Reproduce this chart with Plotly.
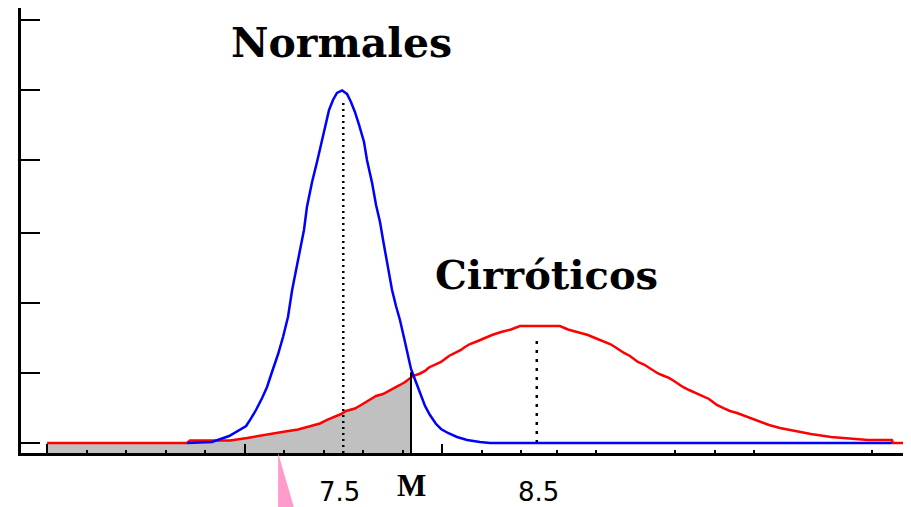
import plotly.graph_objects as go

# ---- data ----
normales_x = [6.709, 6.835, 6.922, 6.967, 7.008, 7.028, 7.058, 7.089, 7.114, 7.139,
              7.170, 7.195, 7.220, 7.241, 7.261, 7.281, 7.301, 7.316, 7.342, 7.367,
              7.387, 7.408, 7.428, 7.448, 7.468, 7.494, 7.519, 7.539, 7.559, 7.580,
              7.605, 7.620, 7.646, 7.666, 7.686, 7.706, 7.727, 7.747, 7.767, 7.787,
              7.808, 7.828, 7.843, 7.868, 7.889, 7.914, 7.939, 7.970, 7.995, 8.030,
              8.076, 8.127, 8.192, 8.243, 10.278]
normales_y = [0.0, 0.014, 0.10, 0.171, 0.243, 0.329, 0.471, 0.643, 0.80, 1.014,
              1.271, 1.514, 1.80, 2.186, 2.471, 2.757, 3.043, 3.371, 3.729, 4.014,
              4.257, 4.529, 4.757, 4.90, 5.0, 5.036, 4.986, 4.871, 4.729, 4.543,
              4.30, 4.043, 3.714, 3.40, 3.157, 2.829, 2.471, 2.186, 1.957, 1.757,
              1.50, 1.229, 1.057, 0.871, 0.70, 0.529, 0.40, 0.271, 0.20, 0.143,
              0.086, 0.043, 0.014, 0.0, 0.0]

cirroticos_x = [6.000, 6.709, 6.724, 6.927, 7.013, 7.114, 7.190, 7.271, 7.332, 7.382,
                7.418, 7.453, 7.489, 7.514, 7.559, 7.590, 7.615, 7.635, 7.666, 7.701,
                7.732, 7.762, 7.787, 7.813, 7.828, 7.853, 7.889, 7.914, 7.934, 7.965,
                7.995, 8.015, 8.035, 8.066, 8.096, 8.116, 8.142, 8.182, 8.218, 8.253,
                8.299, 8.349, 8.395, 8.496, 8.597, 8.638, 8.689, 8.739, 8.775, 8.810,
                8.851, 8.876, 8.896, 8.922, 8.952, 8.972, 8.992, 9.023, 9.048, 9.073,
                9.094, 9.119, 9.149, 9.175, 9.195, 9.220, 9.251, 9.286, 9.322, 9.352,
                9.372, 9.392, 9.423, 9.458, 9.494, 9.534, 9.575, 9.610, 9.656, 9.711,
                9.792, 9.868, 9.970, 10.157, 10.278, 10.284, 10.375]
cirroticos_y = [0.0, 0.0, 0.036, 0.036, 0.071, 0.114, 0.157, 0.193, 0.236, 0.279,
                0.329, 0.371, 0.414, 0.457, 0.493, 0.543, 0.586, 0.621, 0.671, 0.700,
                0.743, 0.786, 0.829, 0.871, 0.907, 0.957, 0.993, 1.029, 1.079, 1.121,
                1.157, 1.200, 1.243, 1.286, 1.329, 1.371, 1.414, 1.457, 1.500, 1.543,
                1.586, 1.621, 1.671, 1.671, 1.671, 1.621, 1.586, 1.543, 1.500, 1.457,
                1.414, 1.371, 1.329, 1.286, 1.243, 1.200, 1.157, 1.121, 1.079, 1.029,
                0.993, 0.964, 0.929, 0.886, 0.843, 0.800, 0.757, 0.714, 0.671, 0.629,
                0.586, 0.543, 0.500, 0.457, 0.429, 0.386, 0.343, 0.300, 0.257, 0.214,
                0.171, 0.129, 0.086, 0.043, 0.043, 0.0, 0.0]

mean_normales = 7.5
mean_cirroticos_line = 8.48    # where the dotted line at "8.5" is drawn
peak_line_normales = 4.886     # top of dotted line at 7.5
peak_line_cirroticos = 1.54    # top of dotted line at 8.5
cutoff_M = 7.843
cirroticos_at_M = 0.94
M_line_top = 1.01
pointer_x = 7.17

x_start = 6.0
x_range = [5.868, 10.375]
y_range = [-0.143, 6.214]

y_tickvals = [0, 1, 2, 3, 4.04, 5.04, 6.04]
x_major_ticks = [6, 7, 8]
x_minor_ticks = [6.2, 6.4, 6.6, 6.8, 7.2, 7.4, 7.6, 7.8, 8.2, 8.4, 8.58, 8.78,
                 9.18, 9.38, 9.58, 10.18]

# ---- figure ----
fig = go.Figure()

# shaded area under Cirróticos up to M
fx = [x for x in cirroticos_x if x <= cutoff_M]
fy = cirroticos_y[:len(fx)]
fill_x = fx + [cutoff_M, cutoff_M, x_start]
fill_y = fy + [cirroticos_at_M, y_range[0], y_range[0]]
fig.add_trace(go.Scatter(x=fill_x, y=fill_y, fill="toself", fillcolor="#C0C0C0",
                         mode="none", hoverinfo="skip", showlegend=False))

# dotted mean lines
fig.add_trace(go.Scatter(x=[mean_normales, mean_normales], y=[y_range[0], peak_line_normales],
                         mode="lines", line=dict(color="black", width=2.5, dash="2px,4px"),
                         showlegend=False))
fig.add_trace(go.Scatter(x=[mean_cirroticos_line, mean_cirroticos_line],
                         y=[0, peak_line_cirroticos],
                         mode="lines", line=dict(color="black", width=2.5, dash="3px,6px"),
                         showlegend=False))

# curves
fig.add_trace(go.Scatter(x=cirroticos_x, y=cirroticos_y, mode="lines",
                         line=dict(color="#FF0000", width=2.5), name="Cirróticos",
                         showlegend=False))
fig.add_trace(go.Scatter(x=normales_x, y=normales_y, mode="lines",
                         line=dict(color="#0000FF", width=2.5), name="Normales",
                         showlegend=False))

# cutoff M line
fig.add_trace(go.Scatter(x=[cutoff_M, cutoff_M], y=[-0.214, M_line_top], mode="lines",
                         line=dict(color="black", width=2), showlegend=False,
                         cliponaxis=False))

# pointer triangle
fig.add_shape(type="path", xref="x", yref="paper",
              path=f"M {pointer_x},0 L {pointer_x},-0.125 L {pointer_x + 0.082},-0.125 Z",
              fillcolor="#FF9ACD", line=dict(width=0), layer="above")

# texts
fig.add_annotation(x=7.49, y=5.72, xref="x", yref="y", text="<b>Normales</b>",
                   showarrow=False, font=dict(family="DejaVu Serif", size=41, color="black"))
fig.add_annotation(x=8.53, y=2.4, xref="x", yref="y", text="<b>Cirróticos</b>",
                   showarrow=False, font=dict(family="DejaVu Serif", size=40, color="black"))
fig.add_annotation(x=7.48, y=-0.088, xref="x", yref="paper", text="7.5",
                   xanchor="center", yanchor="middle", showarrow=False,
                   font=dict(family="DejaVu Sans", size=26, color="black"))
fig.add_annotation(x=8.49, y=-0.088, xref="x", yref="paper", text="8.5",
                   xanchor="center", yanchor="middle", showarrow=False,
                   font=dict(family="DejaVu Sans", size=26, color="black"))
fig.add_annotation(x=cutoff_M, y=-0.074, xref="x", yref="paper", text="<b>M</b>",
                   xanchor="center", yanchor="middle", showarrow=False,
                   font=dict(family="Liberation Serif", size=31, color="black"))

# the page body has an 8px margin, so the figure is 8px smaller and its
# margins are trimmed by 8px on the left and top
fig.update_layout(
    width=903, height=499,
    margin=dict(l=13, r=0, t=0, b=54),
    paper_bgcolor="white", plot_bgcolor="white",
    showlegend=False,
    xaxis=dict(range=x_range, showgrid=False, zeroline=False, showline=True,
               linecolor="black", linewidth=3, ticks="inside", tickmode="array",
               tickvals=x_major_ticks, ticklen=9, tickwidth=2, tickcolor="black",
               showticklabels=False,
               minor=dict(tickmode="array", tickvals=x_minor_ticks, ticks="inside",
                          ticklen=3, tickwidth=2, tickcolor="black", showgrid=False)),
    yaxis=dict(range=y_range, showgrid=False, zeroline=False, showline=True,
               linecolor="black", linewidth=3, ticks="inside", tickmode="array",
               tickvals=y_tickvals, ticklen=19, tickwidth=2, tickcolor="black",
               showticklabels=False),
)

fig.write_html("out.html")
